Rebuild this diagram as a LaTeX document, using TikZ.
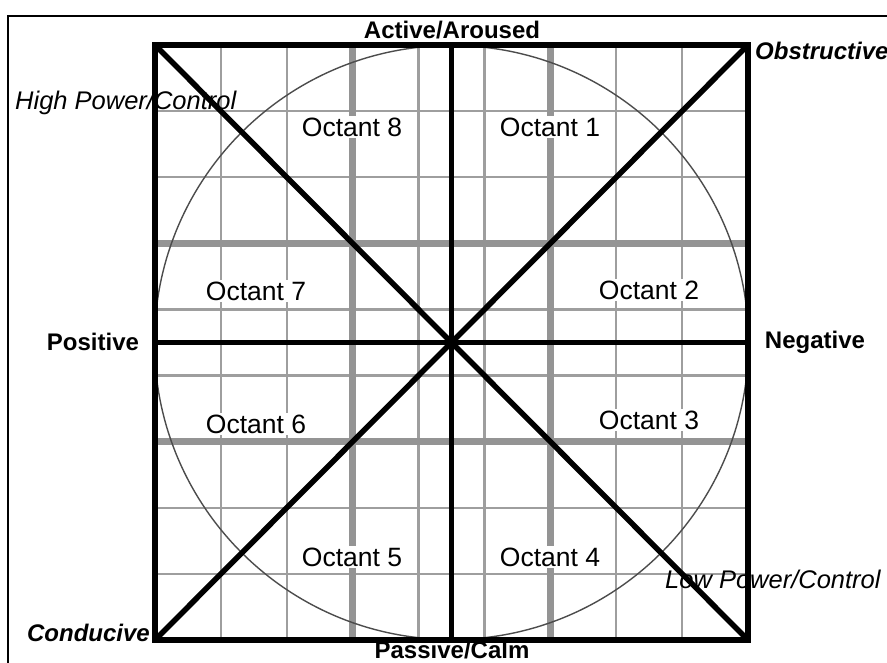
\documentclass[tikz,border=0pt]{standalone}
\usepackage{fontspec}
\setmainfont{Liberation Sans}
\begin{document}
\begin{tikzpicture}[x=1pt,y=-1pt,
  thingrid/.style={draw=black!38,line width=2.4pt},
  thickgrid/.style={draw=black!42,line width=7pt},
  blackline/.style={draw=black,line width=5.5pt},
  axislbl/.style={font=\fontsize{24}{28}\selectfont\bfseries,inner sep=0pt},
  cornerbi/.style={font=\fontsize{24}{28}\selectfont\bfseries\itshape,inner sep=0pt},
  corneri/.style={font=\fontsize{25.5}{29}\selectfont\itshape,inner sep=0pt,text=black},
  octlbl/.style={font=\fontsize{26.5}{30}\selectfont,fill=white,draw=none,inner xsep=2pt,inner ysep=2pt}]
\useasboundingbox (0,0) rectangle (887,663);
\clip (0,0) rectangle (887,663);
% outer frame
\draw[line width=2pt] (8,16) rectangle (900,680);
% corners and centre
\coordinate (TL) at (155,45);
\coordinate (TR) at (748,45);
\coordinate (BL) at (155,640);
\coordinate (BR) at (748,640);
\coordinate (C) at (451.5,342.5);
\coordinate (T) at (451.5,45);
\coordinate (B) at (451.5,640);
\coordinate (L) at (155,342.5);
\coordinate (R) at (748,342.5);
% grid
\foreach \i in {1,2,4,5,7,8}{
  \draw[thingrid] ({155+\i*593/9},45) -- ({155+\i*593/9},640);
  \draw[thingrid] (155,{45+\i*595/9}) -- (748,{45+\i*595/9});
}
\foreach \i in {3,6}{
  \draw[thickgrid] ({155+\i*593/9},45) -- ({155+\i*593/9},640);
  \draw[thickgrid] (155,{45+\i*595/9}) -- (748,{45+\i*595/9});
}
% circle
\draw[black!70,line width=1.4pt] (C) circle (297);
% axes and diagonals
\draw[blackline,line width=5pt] (T) -- (B);
\draw[blackline,line width=5pt] (L) -- (R);
\draw[blackline] (TL) -- (BR);
\draw[blackline] (BL) -- (TR);
\draw[blackline,line width=6pt,line join=miter] (TL) rectangle (BR);
% octant labels
\node[octlbl] (o8) at (352,127) {Octant 8};
\node[octlbl] (o1) at (550,127) {Octant 1};
\node[octlbl] (o7) at (256,291) {Octant 7};
\node[octlbl] (o2) at (649,290) {Octant 2};
\node[octlbl] (o6) at (256,424) {Octant 6};
\node[octlbl] (o3) at (649,420) {Octant 3};
\node[octlbl] (o5) at (352,557) {Octant 5};
\node[octlbl] (o4) at (550,557) {Octant 4};
% axis labels
\node[axislbl] (act) at (452,30) {Active/Aroused};
\node[axislbl,anchor=base] (pas) at (452,658) {Passive/Calm};
\node[axislbl] (pos) at (93,342) {Positive};
\node[axislbl] (neg) at (815,342) {Negative};
% corner labels
\node[cornerbi,anchor=west] (obs) at (755,51) {Obstructive};
\node[cornerbi,anchor=east] (con) at (150,633) {Conducive};
\node[corneri,anchor=west] (hpc) at (15,103) {High Power/Control};
\node[corneri,anchor=west] (lpc) at (665,579) {Low Power/Control};
\end{tikzpicture}
\end{document}
